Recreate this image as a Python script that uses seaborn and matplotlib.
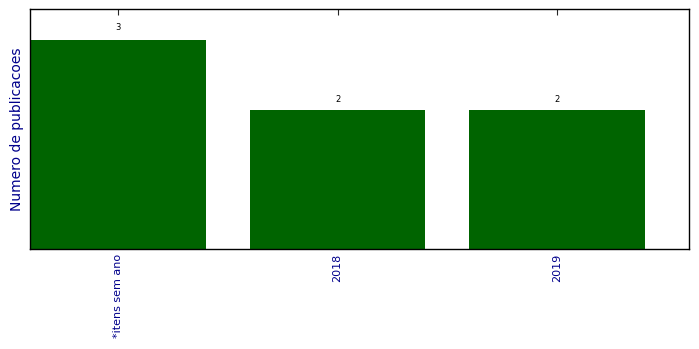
import matplotlib
matplotlib.use("Agg")
import matplotlib.pyplot as plt
import seaborn as sns
import pandas as pd

categories = ["*itens sem ano", "2018", "2019"]
values = [3, 2, 2]

sns.set_style("white")
plt.rcParams['font.family'] = ['DejaVu Sans']

df = pd.DataFrame({"ano": categories, "n": values})

fig = plt.figure(figsize=(6.99, 3.49), dpi=100)
ax = fig.add_axes([30/699, 1-249/349, (689-30)/699, (249-9)/349])
sns.barplot(data=df, x="ano", y="n", color="#006400", saturation=1, width=0.8,
            linewidth=0, ax=ax)
ax.set_xlim(-0.4, 2.6)
ax.set_ylim(0, max(values) * 1.15)
for i, v in enumerate(values):
    ax.text(i, v * 1.04, str(v), ha="center", va="bottom", fontsize=6, color="black")
ax.set_yticks([])
ax.set_xlabel("")
ax.set_ylabel("Numero de publicacoes", color="#00008B", fontsize=10)
ax.tick_params(axis="x", direction="in", top=True, bottom=True, length=4, width=0.8,
               labelsize=8, labelcolor="#00008B", rotation=90, pad=3.5)
for s in ax.spines.values():
    s.set_visible(True)
    s.set_color("black")
    s.set_linewidth(1)
fig.savefig("out.png", dpi=100)
